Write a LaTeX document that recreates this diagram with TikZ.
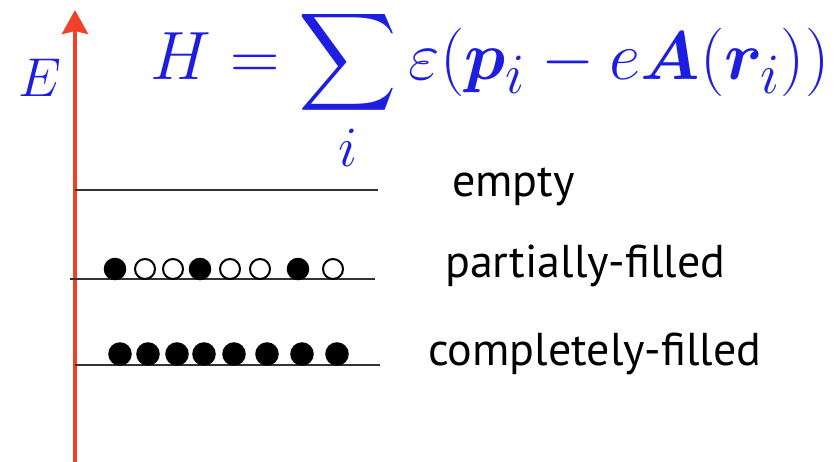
\documentclass[tikz,border=0pt]{standalone}
\usepackage{fontspec}
\usepackage{amsmath}
\usepackage{bm}
\newfontfamily\labelfont{PT Sans}
\usetikzlibrary{arrows.meta, positioning}

\definecolor{axisred}{RGB}{240,66,40}
\definecolor{eqblue}{RGB}{30,30,225}

\tikzset{
  level/.style={line width=1.6pt, black!80},
  full/.style={circle, fill=black, draw=black, line width=1.5pt, minimum size=21pt, inner sep=0pt},
  hole/.style={circle, fill=white, draw=black, line width=2pt, minimum size=20pt, inner sep=0pt},
  tag/.style={anchor=base west, inner sep=0pt, font=\labelfont\fontsize{46}{50}\selectfont},
  bigmath/.style={eqblue, inner sep=0pt, font=\Huge, transform shape}
}

\begin{document}
\begin{tikzpicture}[x=1pt, y=-1pt]
    \useasboundingbox (0,0) rectangle (835,462);

    % energy axis
    \coordinate (bot) at (75,462);
    \coordinate (top) at (75,10);
    \draw[axisred, line width=4.5pt, -{Stealth[length=24pt, width=26pt, inset=3pt]}] (bot) -- (top);
    \node[bigmath, anchor=base, scale=2.2] (E) at (40,97) {$E$};

    % Hamiltonian
    \node[bigmath, anchor=base west, scale=2.75] (ham) at (150,80)
        {$\displaystyle H=\sum_i \varepsilon(\bm{p}_i-e\bm{A}(\bm{r}_i))$};

    % levels
    \coordinate (e1) at (75,190);  \coordinate (e2) at (378,190);
    \coordinate (p1) at (70,279);  \coordinate (p2) at (375,279);
    \coordinate (c1) at (75,365);  \coordinate (c2) at (380,365);
    \draw[level] (e1) -- (e2);
    \draw[level] (p1) -- (p2);
    \draw[level] (c1) -- (c2);

    % partially-filled band
    \foreach \x/\s [count=\k] in {115/full,145/hole,173/hole,200/full,230/hole,260/hole,298/full,333/hole}
        \node[\s] (pd\k) at (\x,269) {};

    % completely-filled band
    \foreach \x [count=\k] in {120,148,177,204,234,267,302,337}
        \node[full, minimum size=22pt] (cd\k) at (\x,354) {};

    \node[tag] (empty) at (452,197) {empty};
    \node[tag] (part)  at (445,278) {partially-filled};
    \node[tag] (comp)  at (428,365) {completely-filled};
\end{tikzpicture}
\end{document}
